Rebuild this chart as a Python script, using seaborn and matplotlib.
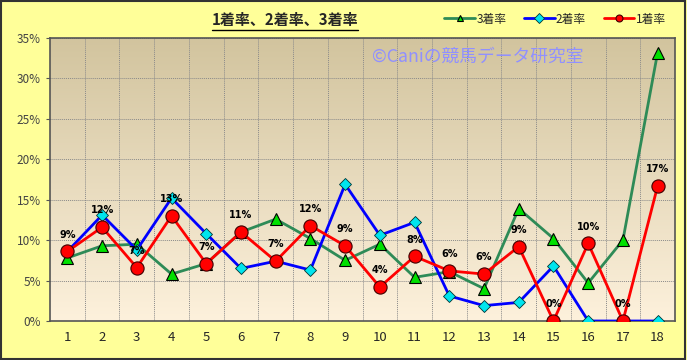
from matplotlib import pyplot as plt
from matplotlib.patches import Rectangle
import matplotlib.ticker as mticker
import numpy as np
import pandas as pd
import seaborn as sns

# **************************************************************************

categories = list(range(1, 19))
rate_1st = [8.6, 11.6, 6.6, 13.0, 7.1, 11.0, 7.4, 11.8, 9.3, 4.2, 8.0, 6.2, 5.8, 9.2, 0.0, 9.6, 0.0, 16.7]
rate_2nd = [8.6, 13.1, 8.8, 15.2, 10.8, 6.5, 7.4, 6.3, 16.9, 10.6, 12.2, 3.1, 1.9, 2.3, 6.8, 0.0, 0.0, 0.0]
rate_3rd = [7.8, 9.3, 9.5, 5.8, 7.1, 11.0, 12.6, 10.2, 7.5, 9.5, 5.4, 6.1, 4.0, 13.9, 10.2, 4.7, 10.0, 33.2]
y_ticks = [0, 5, 10, 15, 20, 25, 30, 35]

# **************************************************************************


def draw_chart():
    sns.set_style('ticks')
    plt.rcParams['font.family'] = ['Noto Sans CJK JP', 'DejaVu Sans']

    df = pd.DataFrame({'x': categories, '1着率': rate_1st, '2着率': rate_2nd, '3着率': rate_3rd})

    fig = plt.figure(figsize=(6.87, 3.6), dpi=100, facecolor='#FFFF99')
    ax = fig.add_axes([50 / 687, 39 / 360, 625 / 687, 283 / 360])

    # gradient plot area (tan at top -> cream at bottom)
    top = np.array([210, 196, 158]) / 255
    bottom = np.array([253, 241, 220]) / 255
    t = np.linspace(0, 1, 256)[:, None]
    grad = (top * (1 - t) + bottom * t)[:, None, :]
    ax.imshow(grad, extent=[0.5, 18.5, 0, 35], aspect='auto', zorder=0)

    # series, green first so red ends on top
    sns.lineplot(df, x='x', y='3着率', color='#2E8B57', linewidth=2.0, marker='^', markersize=8,
                 markerfacecolor='#00E000', markeredgecolor='black', markeredgewidth=0.8,
                 label='3着率', ax=ax, zorder=3)
    sns.lineplot(df, x='x', y='2着率', color='#0000FF', linewidth=2.0, marker='D', markersize=6,
                 markerfacecolor='#00E5EE', markeredgecolor='#003333', markeredgewidth=0.6,
                 label='2着率', ax=ax, zorder=4)
    sns.lineplot(df, x='x', y='1着率', color='#FF0000', linewidth=2.0, marker='o', markersize=9.5,
                 markerfacecolor='#FF0000', markeredgecolor='#400000', markeredgewidth=0.8,
                 label='1着率', ax=ax, zorder=5)

    # data labels for 1着率
    for x, v in zip(categories, rate_1st):
        ax.annotate(f'{v:.0f}%', (x, v), xytext=(0, 8.5), textcoords='offset points',
                    ha='center', va='bottom', fontsize=7, fontweight='bold', color='black', zorder=6,
                    family=['DejaVu Sans'])

    ax.set_xlim(0.5, 18.5)
    ax.set_ylim(0, 35)
    ax.set_xticks(categories)
    ax.set_yticks(y_ticks)
    ax.yaxis.set_major_formatter(mticker.FuncFormatter(lambda v, p: f'{v:.0f}%'))
    ax.set_xticks(np.arange(1.5, 18.5, 1), minor=True)
    ax.tick_params(axis='x', which='both', length=0, labelsize=9.5, pad=7)
    ax.tick_params(axis='y', length=3, labelsize=8.5, labelcolor='#444444', color='#555555')
    ax.grid(axis='y', which='major', color='#8a8a8a', linestyle=(0, (1, 1)), linewidth=0.7)
    ax.grid(axis='x', which='minor', color='#8a8a8a', linestyle=(0, (1, 1)), linewidth=0.7)
    for line in ax.get_xgridlines() + ax.get_ygridlines():
        line.set_zorder(1)
    ax.set_xlabel('')
    ax.set_ylabel('')
    for s in ax.spines.values():
        s.set_color('#555555')
        s.set_linewidth(1.2)

    ax.text(0.685, 0.935, '©Caniの競馬データ研究室', transform=ax.transAxes, ha='center', va='center',
            fontsize=12.8, color='#9090FF', zorder=2)

    fig.text(285 / 687, 1 - 20 / 360, '1着率、2着率、3着率', ha='center', va='center',
             fontsize=10.8, fontweight='bold')
    fig.add_artist(plt.Line2D([212 / 687, 358 / 687], [1 - 29.5 / 360, 1 - 29.5 / 360], color='black', linewidth=1))

    leg = ax.legend(loc='center', bbox_to_anchor=(555 / 687, 1 - 19 / 360), bbox_transform=fig.transFigure,
                    ncol=3, frameon=False, fontsize=8.5, handlelength=2.6, columnspacing=1.5,
                    handletextpad=0.1, borderaxespad=0)
    for h in leg.legend_handles:
        h.set_markersize(5)

    fig.add_artist(Rectangle((0.002, 0.004), 0.995, 0.992, transform=fig.transFigure, fill=False,
                             edgecolor='#333333', linewidth=1.5))

    plt.savefig('out.png', dpi=100, facecolor=fig.get_facecolor())


# **************************************************************************


draw_chart()
